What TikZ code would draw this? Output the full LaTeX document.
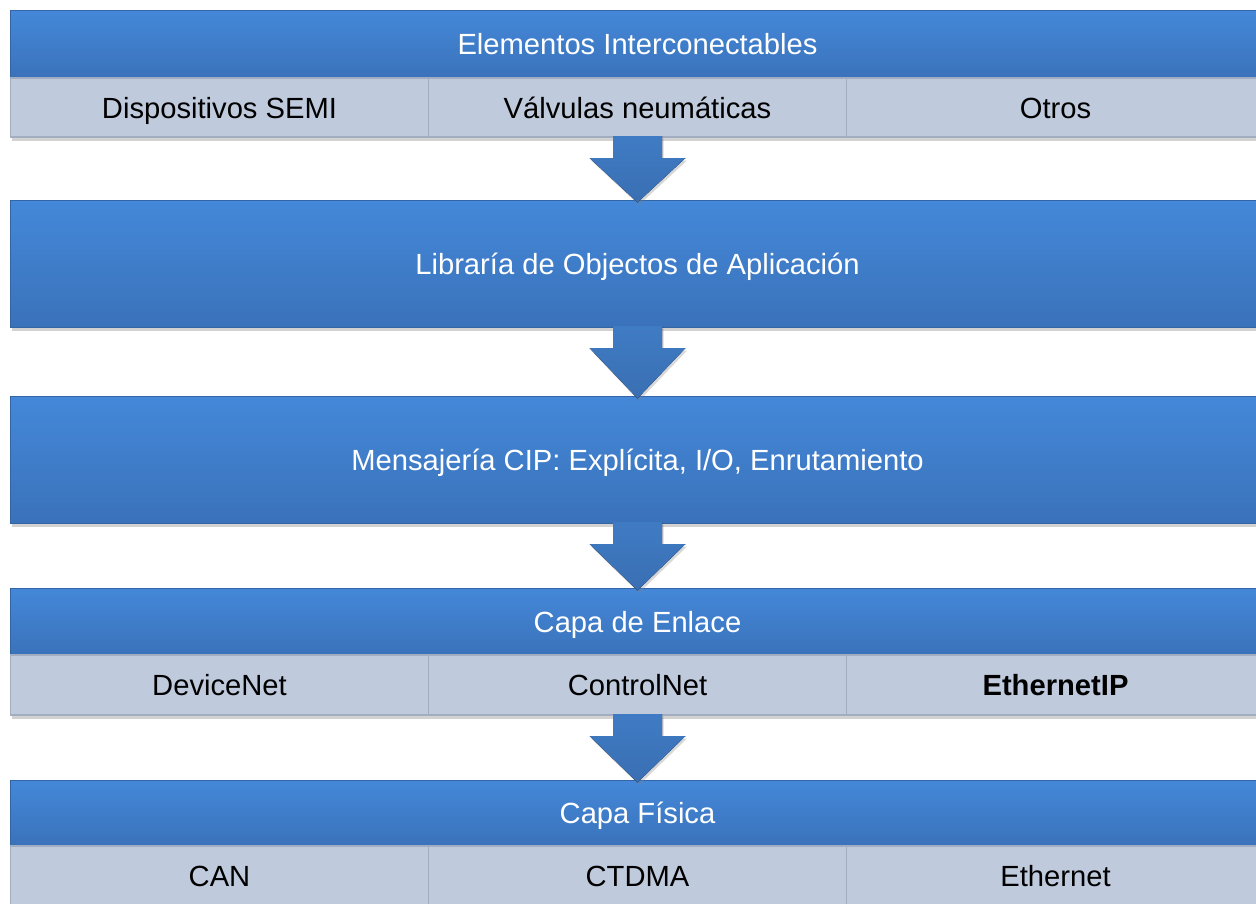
\documentclass[tikz,border=0pt]{standalone}
\usepackage{fontspec}
\setmainfont{Liberation Sans}
\usepackage{tikz}
\usetikzlibrary{positioning, calc, shadows}
\definecolor{bartop}{HTML}{4488D9}
\definecolor{barbottom}{HTML}{3A72BA}
\definecolor{baredge}{HTML}{3364A3}
\definecolor{cellgray}{HTML}{C0CADD}
\definecolor{celledge}{HTML}{A3ADC0}
\definecolor{arrowtop}{HTML}{3F7BC4}
\definecolor{arrowbottom}{HTML}{3A6FB2}

% fat block arrow from one layer to the next
\newcommand{\layerarrow}[2]{%
  \fill[flow] ($(#1.south)+(-0.49,0.02)$) -- ($(#1.south)+(-0.49,-0.42)$)
    -- ($(#1.south)+(-0.96,-0.42)$) -- ($(#2.north)+(0,-0.05)$)
    -- ($(#1.south)+(0.96,-0.42)$) -- ($(#1.south)+(0.49,-0.42)$)
    -- ($(#1.south)+(0.49,0.02)$) -- cycle;}

\begin{document}
\begin{tikzpicture}[
  layer/.style={top color=bartop, bottom color=barbottom, draw=baredge, line width=0.5pt,
                minimum width=25.08cm, inner sep=0pt, outer sep=0pt, text=white,
                font=\fontsize{16.6}{20}\selectfont, text height=14pt, text depth=2pt,
                drop shadow={shadow xshift=0.03cm, shadow yshift=-0.07cm, opacity=0.35}},
  cell/.style={fill=cellgray, draw=celledge, line width=0.6pt,
               minimum width=8.36cm, minimum height=1.18cm, inner sep=0pt, outer sep=0pt,
               font=\fontsize{16.6}{20}\selectfont, text height=14pt, text depth=2pt,
               drop shadow={shadow xshift=0.03cm, shadow yshift=-0.07cm, opacity=0.35}},
  flow/.style={top color=arrowtop, bottom color=arrowbottom,
               drop shadow={shadow xshift=0.03cm, shadow yshift=-0.05cm, opacity=0.3}},
]
  \clip (0,0) rectangle (25.12,-18.06);
  \fill[white] (0,0) rectangle (25.12,-18.06);

  % Elementos interconectables
  \node[layer, minimum height=1.36cm, anchor=north west] (elem) at (0.21,-0.2) {Elementos Interconectables};
  \node[cell, anchor=north west] (semi) at (elem.south west) {Dispositivos SEMI};
  \node[cell, right=0pt of semi] (valv) {Válvulas neumáticas};
  \node[cell, right=0pt of valv] (otros) {Otros};

  % Libreria de objetos
  \node[layer, minimum height=2.54cm, anchor=north west] (lib) at (0.21,-4.0) {Libraría de Objectos de Aplicación};

  % Mensajeria CIP
  \node[layer, minimum height=2.54cm, anchor=north west] (cip) at (0.21,-7.92) {Mensajería CIP: Explícita, I/O, Enrutamiento};

  % Capa de enlace
  \node[layer, minimum height=1.34cm, anchor=north west] (enlace) at (0.21,-11.76) {Capa de Enlace};
  \node[cell, minimum height=1.2cm, anchor=north west] (dnet) at (enlace.south west) {DeviceNet};
  \node[cell, minimum height=1.2cm, right=0pt of dnet] (cnet) {ControlNet};
  \node[cell, minimum height=1.2cm, right=0pt of cnet] (enet) {\bfseries EthernetIP};

  % Capa fisica
  \node[layer, minimum height=1.32cm, anchor=north west] (fisica) at (0.21,-15.6) {Capa Física};
  \node[cell, minimum height=1.2cm, anchor=north west] (can) at (fisica.south west) {CAN};
  \node[cell, minimum height=1.2cm, right=0pt of can] (ctdma) {CTDMA};
  \node[cell, minimum height=1.2cm, right=0pt of ctdma] (ether) {Ethernet};

  % Arrows between layers
  \layerarrow{valv}{lib}
  \layerarrow{lib}{cip}
  \layerarrow{cip}{enlace}
  \layerarrow{cnet}{fisica}
\end{tikzpicture}
\end{document}
